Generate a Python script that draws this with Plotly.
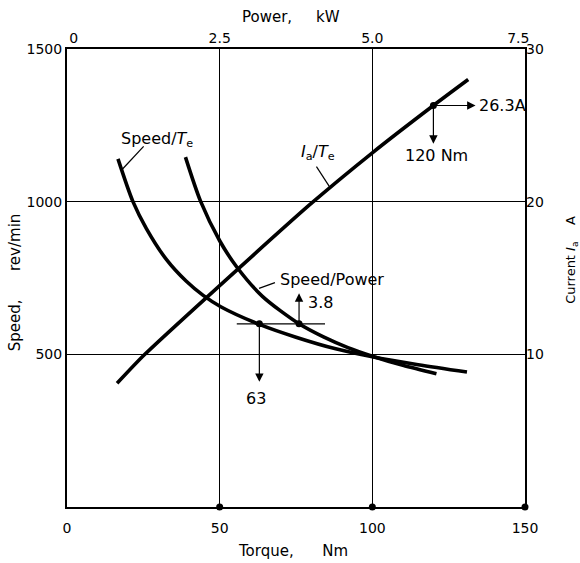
import plotly.graph_objects as go

# ---- data ----
TORQUE_TICKS = [0, 50, 100, 150]
POWER_TICKS = [0, 2.5, 5.0, 7.5]
POWER_TICK_TEXT = ["&nbsp;&nbsp;&nbsp;0", "2.5", "5.0", "7.5&nbsp;&nbsp;&nbsp;"]
SPEED_TICKS = [500, 1000, 1500]
CURRENT_TICKS = [10, 20, 30]

# Speed vs electromagnetic torque (Nm, rev/min)
TE_TORQUE = [16.7, 21.6, 26, 32.6, 39, 44.6, 50.5, 63, 75, 88, 100, 115, 131]
TE_SPEED = [1140, 1000, 912, 810, 740, 693, 655, 598, 556, 518, 492, 466, 442]

# Speed vs power (kW, rev/min)
P_POWER = [1.94, 2.19, 2.5, 2.78, 3.2, 3.8, 4.2, 4.6, 5.0, 5.5, 6.05]
P_SPEED = [1146, 1000, 872, 786, 690, 600, 557, 522, 494, 464, 436]

# Armature current vs torque (Nm, A)
IA_TORQUE = [16.4, 25.5, 79.5, 100, 120, 131.4]
IA_CURRENT = [8.1, 10.0, 19.8, 23.2, 26.3, 28.0]

# marked operating points
PT_TORQUE, PT_SPEED = 63, 600
PT_POWER = 3.8
PT2_TORQUE, PT2_CURRENT = 120, 26.3
AXIS_DOTS = [50, 100, 150]

FONT = "DejaVu Sans"
BLACK = "#000000"
LW = 3.6

fig = go.Figure()

fig.add_trace(go.Scatter(x=TE_TORQUE, y=TE_SPEED, mode="lines",
                         line=dict(color=BLACK, width=LW, shape="spline", smoothing=0.8),
                         xaxis="x", yaxis="y", hoverinfo="skip"))
fig.add_trace(go.Scatter(x=P_POWER, y=P_SPEED, mode="lines",
                         line=dict(color=BLACK, width=LW, shape="spline", smoothing=0.8),
                         xaxis="x2", yaxis="y", hoverinfo="skip"))
fig.add_trace(go.Scatter(x=IA_TORQUE, y=IA_CURRENT, mode="lines",
                         line=dict(color=BLACK, width=LW, shape="spline", smoothing=0.6),
                         xaxis="x", yaxis="y2", hoverinfo="skip"))

# points
fig.add_trace(go.Scatter(x=[PT_TORQUE], y=[PT_SPEED], mode="markers", marker=dict(color=BLACK, size=7),
                         xaxis="x", yaxis="y"))
fig.add_trace(go.Scatter(x=[PT_POWER], y=[PT_SPEED], mode="markers", marker=dict(color=BLACK, size=7),
                         xaxis="x2", yaxis="y"))
fig.add_trace(go.Scatter(x=[PT2_TORQUE], y=[PT2_CURRENT], mode="markers", marker=dict(color=BLACK, size=7),
                         xaxis="x", yaxis="y2"))
fig.add_trace(go.Scatter(x=AXIS_DOTS, y=[0] * len(AXIS_DOTS), mode="markers", marker=dict(color=BLACK, size=7),
                         xaxis="x", yaxis="y", cliponaxis=False))

afont = dict(family=FONT, size=16, color=BLACK)
tfont = dict(family=FONT, size=15, color=BLACK)
arrow = dict(showarrow=True, arrowhead=2, arrowsize=1.4, arrowwidth=1.2, arrowcolor=BLACK, text="")

annotations = [
    # arrows
    dict(x=PT_TORQUE, y=410, ax=PT_TORQUE, ay=PT_SPEED, xref="x", yref="y", axref="x", ayref="y", **arrow),
    dict(x=PT_POWER, y=700, ax=PT_POWER, ay=PT_SPEED, xref="x2", yref="y", axref="x2", ayref="y", **arrow),
    dict(x=133.8, y=PT2_CURRENT, ax=PT2_TORQUE, ay=PT2_CURRENT, xref="x", yref="y2", axref="x", ayref="y2", **arrow),
    dict(x=PT2_TORQUE, y=23.8, ax=PT2_TORQUE, ay=PT2_CURRENT, xref="x", yref="y2", axref="x", ayref="y2", **arrow),
    # point labels
    dict(x=62, y=355, xref="x", yref="y", text="63", showarrow=False, font=afont,
         xanchor="center", yanchor="middle"),
    dict(x=3.92, y=669, xref="x2", yref="y", text="3.8", showarrow=False, font=afont,
         xanchor="left", yanchor="middle"),
    dict(x=134.3, y=PT2_CURRENT, xref="x", yref="y2", text="26.3A", showarrow=False, font=afont,
         xanchor="left", yanchor="middle"),
    dict(x=121, y=1152, xref="x", yref="y", text="120 Nm", showarrow=False, font=afont,
         xanchor="center", yanchor="middle"),
    # curve labels
    dict(x=29.5, y=1203, xref="x", yref="y", text="Speed/<i>T</i><sub>e</sub>", showarrow=False, font=afont,
         xanchor="center", yanchor="middle"),
    dict(x=82.3, y=1162, xref="x", yref="y", text="<i>I</i><sub>a</sub>/<i>T</i><sub>e</sub>", showarrow=False,
         font=afont, xanchor="center", yanchor="middle"),
    dict(x=69.0, y=744, xref="x", yref="y", text="Speed/Power", showarrow=False, font=afont,
         xanchor="left", yanchor="middle"),
    # axis titles
    dict(x=0.489, y=1.07, xref="paper", yref="paper", text="Power,&nbsp;&nbsp;&nbsp;&nbsp;&nbsp;kW",
         showarrow=False, font=tfont, xanchor="center", yanchor="middle"),
    dict(x=0.493, y=-0.095, xref="paper", yref="paper", text="Torque,&nbsp;&nbsp;&nbsp;&nbsp;&nbsp;&nbsp;Nm",
         showarrow=False, font=tfont, xanchor="center", yanchor="middle"),
    dict(x=-0.114, y=0.49, xref="paper", yref="paper", text="Speed,&nbsp;&nbsp;&nbsp;&nbsp;&nbsp;&nbsp;rev/min",
         showarrow=False, textangle=-90, font=tfont, xanchor="center", yanchor="middle"),
    dict(x=1.103, y=0.54, xref="paper", yref="paper",
         text="Current&nbsp;<i>I</i><sub>a</sub>&nbsp;&nbsp;&nbsp;&nbsp;A",
         showarrow=False, textangle=-90, font=dict(family=FONT, size=13, color=BLACK),
         xanchor="center", yanchor="middle"),
]

shapes = [
    # horizontal marker line at 600 rev/min
    dict(type="line", xref="x", yref="y", x0=55.6, x1=84.5, y0=PT_SPEED, y1=PT_SPEED,
         line=dict(color=BLACK, width=1.3)),
    # leader lines
    dict(type="line", xref="x", yref="y", x0=25.1, y0=1181, x1=18.2, y1=1107, line=dict(color=BLACK, width=1.2)),
    dict(type="line", xref="x", yref="y", x0=81.7, y0=1115, x1=85.9, y1=1050, line=dict(color=BLACK, width=1.2)),
    dict(type="line", xref="x", yref="y", x0=68.1, y0=735, x1=62.9, y1=716, line=dict(color=BLACK, width=1.2)),
]

tickfont = dict(family=FONT, size=14, color=BLACK)

fig.update_layout(
    width=580, height=563,
    margin=dict(l=67, r=55, t=49, b=56),
    paper_bgcolor="white", plot_bgcolor="white",
    showlegend=False,
    annotations=annotations,
    shapes=shapes,
    xaxis=dict(range=[0, 150], tickvals=TORQUE_TICKS, ticks="", showgrid=True, gridcolor=BLACK, gridwidth=1,
               showline=True, linecolor=BLACK, linewidth=2, mirror=True, zeroline=False, automargin=False,
               tickfont=tickfont, ticklabelstandoff=7, fixedrange=True),
    xaxis2=dict(range=[0, 7.5], tickvals=POWER_TICKS, ticktext=POWER_TICK_TEXT, overlaying="x", side="top",
                ticks="", showgrid=False, showline=False, zeroline=False, tickfont=tickfont, anchor="y",
                automargin=False, ticklabelstandoff=2),
    yaxis=dict(range=[0, 1500], tickvals=SPEED_TICKS, ticks="", showgrid=True, gridcolor=BLACK, gridwidth=1,
               showline=True, linecolor=BLACK, linewidth=2, mirror=True, zeroline=False, automargin=False,
               tickfont=tickfont, ticklabelstandoff=0),
    yaxis2=dict(range=[0, 30], tickvals=CURRENT_TICKS, overlaying="y", side="right", ticks="",
                showgrid=False, showline=False, zeroline=False, tickfont=tickfont, anchor="x",
                automargin=False, ticklabelstandoff=0),
)

# remove the page's default body margin so the 580x563 figure fills the window exactly
fig.write_html("out.html", config={"displayModeBar": False},
               post_script="document.body.style.margin='0';document.body.style.overflow='hidden';")
